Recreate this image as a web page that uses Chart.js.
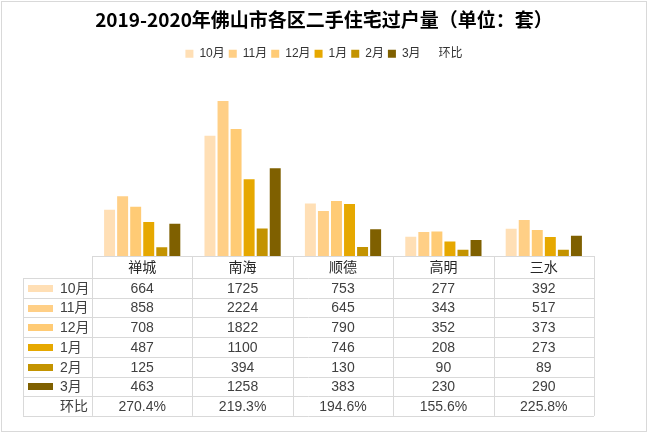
<!DOCTYPE html>
<html>
<head>
<meta charset="utf-8">
<script src="https://cdn.jsdelivr.net/npm/chart.js@4"></script>
<style>
  html, body { margin: 0; padding: 0; background: #fff; }
  #box { width: 648px; height: 433px; }
</style>
</head>
<body>
<div id="box"><canvas id="chart" width="648" height="433"></canvas></div>
<script>
// 数据
const districts = ["禅城", "南海", "顺德", "高明", "三水"];
const months = ["10月", "11月", "12月", "1月", "2月", "3月"];

const oct = [664, 1725, 753, 277, 392];
const nov = [858, 2224, 645, 343, 517];
const dec = [708, 1822, 790, 352, 373];
const jan = [487, 1100, 746, 208, 273];
const feb = [125, 394, 130, 90, 89];
const mar = [463, 1258, 383, 230, 290];

const momLabel = "环比";
const mom = ["270.4%", "219.3%", "194.6%", "155.6%", "225.8%"];

const colors = ["#FFDFB5", "#FFCF86", "#FFCB75", "#E6A800", "#C39300", "#7F6000"];

const series = [oct, nov, dec, jan, feb, mar];

Chart.defaults.font.family = '"Liberation Sans", "Noto Sans CJK SC", sans-serif';

// 底部数据表
const tablePlugin = {
    id: "dataTable",
    afterDraw(chart) {
        const ctx = chart.ctx;
        const x = chart.scales.x;
        const area = chart.chartArea;
        const colW = (area.right - area.left) / districts.length;
        const top = area.bottom;
        const headH = 22;
        const rowH = 19.7;
        const leftX = 23;
        const rows = months.length + 1;
        const bottom = top + headH + rowH * rows;

        ctx.save();
        ctx.strokeStyle = "#D9D9D9";
        ctx.lineWidth = 1;

        // 横线
        ctx.beginPath();
        ctx.moveTo(area.left, top + 0.5);
        ctx.lineTo(area.right, top + 0.5);
        for (let i = 0; i <= rows; i++) {
            const y = Math.round(top + headH + rowH * i) + 0.5;
            ctx.moveTo(leftX, y);
            ctx.lineTo(area.right, y);
        }
        // 竖线
        ctx.moveTo(leftX + 0.5, top + headH);
        ctx.lineTo(leftX + 0.5, bottom);
        for (let i = 0; i <= districts.length; i++) {
            const xx = Math.round(area.left + colW * i) + 0.5;
            ctx.moveTo(xx, top);
            ctx.lineTo(xx, bottom);
        }
        ctx.stroke();

        ctx.textBaseline = "middle";
        ctx.font = '14px "Liberation Sans", "Noto Sans CJK SC", sans-serif';

        // 表头
        ctx.fillStyle = "#262626";
        ctx.textAlign = "center";
        districts.forEach((d, i) => {
            ctx.fillText(d, x.getPixelForValue(i), top + headH / 2 + 1);
        });

        // 行
        months.forEach((m, r) => {
            const cy = top + headH + rowH * r + rowH / 2 + 1;
            ctx.fillStyle = colors[r];
            ctx.fillRect(28, Math.round(cy - 4), 25, 7);
            ctx.fillStyle = "#404040";
            ctx.textAlign = "left";
            ctx.fillText(m, 60, cy);
            ctx.textAlign = "center";
            series[r].forEach((v, i) => {
                ctx.fillText(String(v), x.getPixelForValue(i), cy);
            });
        });

        const cy = top + headH + rowH * months.length + rowH / 2 + 1;
        ctx.textAlign = "left";
        ctx.fillText(momLabel, 60, cy);
        ctx.textAlign = "center";
        mom.forEach((v, i) => {
            ctx.fillText(v, x.getPixelForValue(i), cy);
        });

        // 外框
        ctx.strokeStyle = "#D9D9D9";
        ctx.strokeRect(1.5, 1.5, chart.width - 3, chart.height - 3);
        ctx.restore();
    }
};

// 隐藏的轴，只用来留出左右空白
const blankAxis = (pos, w) => ({
    display: true,
    position: pos,
    min: 0,
    max: 1,
    ticks: { display: false },
    grid: { display: false, drawTicks: false },
    border: { display: false },
    afterFit: s => { s.width = w; }
});

new Chart(document.getElementById("chart"), {

    type: "bar",

    data: {
        labels: districts,
        datasets: months.map((m, i) => ({
            label: m,
            data: series[i],
            backgroundColor: colors[i],
            categoryPercentage: 0.78,
            barPercentage: 0.84
        }))
    },

    options: {

        responsive: false,
        animation: false,

        layout: {
            padding: { left: 0, right: 0, top: 0, bottom: 177 }
        },

        plugins: {

            title: {
                display: true,
                text: "2019-2020年佛山市各区二手住宅过户量（单位：套）",
                color: "#000000",
                font: {
                    family: '"Noto Sans CJK SC", sans-serif',
                    size: 19,
                    weight: "bold"
                },
                padding: { top: 8, bottom: 13 }
            },

            legend: {
                position: "top",
                labels: {
                    boxWidth: 8,
                    boxHeight: 8,
                    padding: 4,
                    color: "#333333",
                    font: { size: 12 },
                    generateLabels(chart) {
                        const items = Chart.defaults.plugins.legend.labels.generateLabels(chart);
                        items.forEach(it => { it.lineWidth = 0; });
                        items.push({
                            text: momLabel,
                            fillStyle: "rgba(0,0,0,0)",
                            strokeStyle: "rgba(0,0,0,0)",
                            lineWidth: 0,
                            hidden: false,
                            datasetIndex: -1
                        });
                        return items;
                    }
                }
            },

            tooltip: { enabled: false }

        },

        scales: {

            x: {
                display: false,
                grid: { display: false }
            },

            y: {
                display: false,
                min: 0,
                max: 2670
            },

            left: blankAxis("left", 92),
            right: blankAxis("right", 54)

        }

    },

    plugins: [tablePlugin]

});
</script>
</body>
</html>
